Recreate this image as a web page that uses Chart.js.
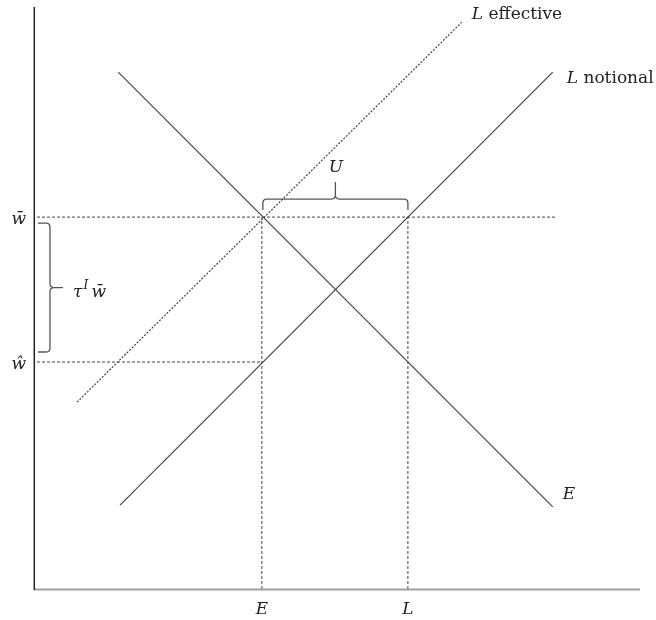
<!DOCTYPE html>
<html>
<head>
<meta charset="utf-8">
<script src="https://cdn.jsdelivr.net/npm/chart.js@4/dist/chart.umd.min.js"></script>
<style>
  html, body { margin: 0; padding: 0; background: #fff; }
  #wrap { width: 656px; height: 620px; }
</style>
</head>
<body>
<div id="wrap"><canvas id="diagram" width="656" height="620"></canvas></div>
<script>
'use strict';

// axis markers (quantities and wages)
var xTickLabels = ['E', 'L'];
var xTickValues = [37.6, 61.7];
var yTickLabels = ['w\u0304', '\u0175'];
var yTickValues = [63.9, 39.0];

// curves, endpoints
var eLineX = [13.9, 85.6];
var eLineY = [88.8, 14.1];
var lNotionalX = [14.2, 85.6];
var lNotionalY = [14.4, 88.8];
var lEffectiveX = [7.1, 70.6];
var lEffectiveY = [32.1, 97.4];

// dotted guides
var wBarGuideX = [0.5, 86.0];
var wHatGuideX = [0.5, 37.6];

var curveLabels = ['E', 'L notional', 'L effective'];

function pts(xs, ys) {
  return xs.map(function (x, i) { return { x: x, y: ys[i] }; });
}

var MATH = 'italic 17px "DejaVu Serif"';
var TEXT = '17px "DejaVu Serif"';
var INK = '#222';

function drawBrace(ctx, x1, y1, x2, y2, d, t, r) {
  var len = Math.hypot(x2 - x1, y2 - y1);
  var ang = Math.atan2(y2 - y1, x2 - x1);
  var m = len / 2;
  ctx.save();
  ctx.translate(x1, y1);
  ctx.rotate(ang);
  ctx.beginPath();
  ctx.moveTo(0, 0);
  ctx.lineTo(0, -(d - r));
  ctx.quadraticCurveTo(0, -d, r, -d);
  ctx.lineTo(m - r, -d);
  ctx.quadraticCurveTo(m, -d, m, -d - r);
  ctx.lineTo(m, -t);
  ctx.moveTo(m, -d - r);
  ctx.quadraticCurveTo(m, -d, m + r, -d);
  ctx.lineTo(len - r, -d);
  ctx.quadraticCurveTo(len, -d, len, -(d - r));
  ctx.lineTo(len, 0);
  ctx.strokeStyle = '#555';
  ctx.lineWidth = 1.3;
  ctx.stroke();
  ctx.restore();
}

var extras = {
  id: 'extras',
  afterDatasetsDraw: function (chart) {
    var ctx = chart.ctx;
    var xs = chart.scales.x, ys = chart.scales.y;
    var x0 = xs.getPixelForValue(0), y0 = ys.getPixelForValue(0);
    var yTop = ys.getPixelForValue(100), xEnd = xs.getPixelForValue(100);
    ctx.save();

    // axes
    ctx.strokeStyle = '#a0a0a0';
    ctx.lineWidth = 2;
    ctx.beginPath();
    ctx.moveTo(x0, y0 + 0.5);
    ctx.lineTo(xEnd, y0 + 0.5);
    ctx.stroke();
    ctx.strokeStyle = '#222';
    ctx.lineWidth = 1.5;
    ctx.beginPath();
    ctx.moveTo(x0 + 0.3, yTop);
    ctx.lineTo(x0 + 0.3, y0 + 1);
    ctx.stroke();

    ctx.fillStyle = INK;
    ctx.font = MATH;

    // x tick labels
    ctx.textAlign = 'center';
    ctx.textBaseline = 'alphabetic';
    xTickLabels.forEach(function (lab, i) {
      ctx.fillText(lab, xs.getPixelForValue(xTickValues[i]), y0 + 25);
    });

    // y tick labels
    ctx.textAlign = 'right';
    yTickLabels.forEach(function (lab, i) {
      ctx.fillText(lab, x0 - 8, ys.getPixelForValue(yTickValues[i]) + 7);
    });

    // curve labels
    ctx.textAlign = 'left';
    var eEnd = { x: xs.getPixelForValue(eLineX[1]), y: ys.getPixelForValue(eLineY[1]) };
    ctx.fillText(curveLabels[0], eEnd.x + 10, eEnd.y - 8);

    var nEnd = { x: xs.getPixelForValue(lNotionalX[1]), y: ys.getPixelForValue(lNotionalY[1]) };
    var effEnd = { x: xs.getPixelForValue(lEffectiveX[1]), y: ys.getPixelForValue(lEffectiveY[1]) };
    [[curveLabels[1], nEnd, 14, 11], [curveLabels[2], effEnd, 10, -3]].forEach(function (c) {
      var parts = c[0].split(' ');
      ctx.font = MATH;
      ctx.fillText(parts[0], c[1].x + c[2], c[1].y + c[3]);
      var w = ctx.measureText(parts[0] + ' ').width;
      ctx.font = TEXT;
      ctx.fillText(parts[1], c[1].x + c[2] + w, c[1].y + c[3]);
    });

    // U brace over the gap between E and L at the fixed wage
    var wBarPx = ys.getPixelForValue(yTickValues[0]);
    var ex = xs.getPixelForValue(xTickValues[0]), lx = xs.getPixelForValue(xTickValues[1]);
    drawBrace(ctx, ex + 1, wBarPx - 7, lx, wBarPx - 7, 11, 28, 4);
    ctx.font = MATH;
    ctx.textAlign = 'center';
    ctx.fillText('U', (ex + lx) / 2 + 1, wBarPx - 45);

    // tax wedge brace between w-bar and w-hat
    var wHatPx = ys.getPixelForValue(yTickValues[1]);
    var top = wBarPx + 6, bot = wHatPx - 10;
    drawBrace(ctx, x0 + 4, top, x0 + 4, bot, 12, 25, 4);
    var mid = (top + bot) / 2;
    ctx.textAlign = 'left';
    ctx.fillText('\u03c4', x0 + 39, mid + 9);
    var tw = ctx.measureText('\u03c4').width;
    ctx.font = 'italic 12px "DejaVu Serif"';
    ctx.fillText('I', x0 + 40 + tw, mid + 1);
    ctx.font = MATH;
    ctx.fillText('w\u0304', x0 + 40 + tw + 8, mid + 9);

    ctx.restore();
  }
};

var solid = { borderColor: '#444', borderWidth: 1.2, pointRadius: 0, showLine: true, fill: false, clip: false };
var guide = { borderColor: '#444', borderWidth: 1, borderDash: [3, 2], pointRadius: 0, showLine: true, fill: false, clip: false };

new Chart(document.getElementById('diagram'), {
  type: 'scatter',
  data: {
    datasets: [
      Object.assign({ label: 'E', data: pts(eLineX, eLineY) }, solid),
      Object.assign({ label: 'L notional', data: pts(lNotionalX, lNotionalY) }, solid),
      Object.assign({ label: 'L effective', data: pts(lEffectiveX, lEffectiveY) }, guide, { borderDash: [2, 1.5], borderWidth: 1.2 }),
      Object.assign({ label: 'w bar', data: pts(wBarGuideX, [yTickValues[0], yTickValues[0]]) }, guide),
      Object.assign({ label: 'w hat', data: pts(wHatGuideX, [yTickValues[1], yTickValues[1]]) }, guide),
      Object.assign({ label: 'E drop', data: pts([xTickValues[0], xTickValues[0]], [0, yTickValues[0]]) }, guide),
      Object.assign({ label: 'L drop', data: pts([xTickValues[1], xTickValues[1]], [0, yTickValues[0]]) }, guide)
    ]
  },
  options: {
    responsive: false,
    animation: false,
    devicePixelRatio: 1,
    layout: { padding: { left: 34, right: 16, top: 7, bottom: 31 } },
    scales: {
      x: { type: 'linear', min: 0, max: 100, display: false },
      y: { type: 'linear', min: 0, max: 100, display: false }
    },
    plugins: {
      legend: { display: false },
      tooltip: { enabled: false }
    }
  },
  plugins: [extras]
});
</script>
</body>
</html>
